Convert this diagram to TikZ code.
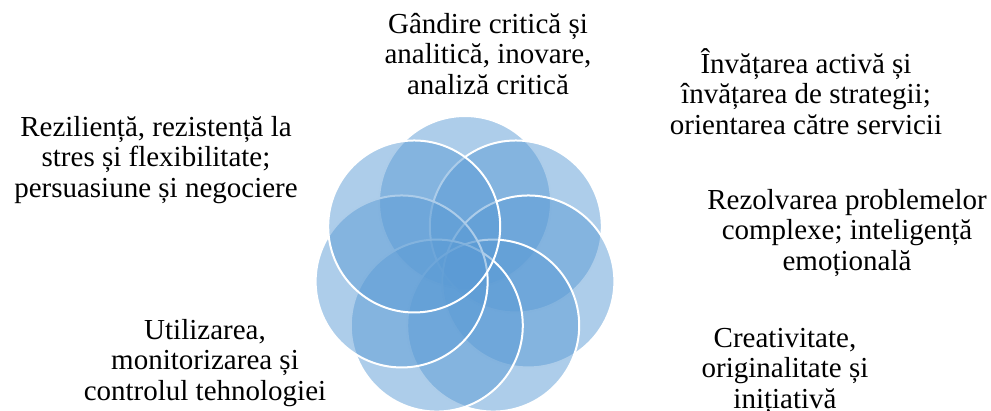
\documentclass[tikz,border=0pt]{standalone}
\usepackage{fontspec}
\setmainfont{Liberation Serif}
\definecolor{petal}{RGB}{91,155,213}
\begin{document}
\begin{tikzpicture}[x=1pt,y=-1pt,
  petalc/.style={fill=petal,fill opacity=0.5,draw=white,draw opacity=1,line width=2pt},
  lbl/.style={align=center,anchor=base,inner sep=0pt,font=\fontsize{29}{30.5}\selectfont}]
\useasboundingbox (0,0) rectangle (991,410);
\begin{scope}
\clip (0,0) rectangle (991,410);
\foreach \k in {0,...,6}{
  \pgfmathsetmacro{\ang}{90-\k*360/7}
  \path[petalc] ({465+65*cos(\ang)},{267-65*sin(\ang)}) circle (86);
}
\end{scope}
\node[lbl] (t1) at (488,94) {Gândire critică și\\analitică, inovare,\\analiză critică};
\node[lbl] (t2) at (806,134) {Învățarea activă și\\învățarea de strategii;\\orientarea către servicii};
\node[lbl] (t3) at (847,270) {Rezolvarea problemelor\\complexe; inteligență\\emoțională};
\node[lbl] (t4) at (785,408) {Creativitate,\\originalitate și\\inițiativă};
\node[lbl] (t5) at (205,400) {Utilizarea,\\monitorizarea și\\controlul tehnologiei};
\node[lbl] (t6) at (156,197) {Reziliență, rezistență la\\stres și flexibilitate;\\persuasiune și negociere};
\end{tikzpicture}
\end{document}
